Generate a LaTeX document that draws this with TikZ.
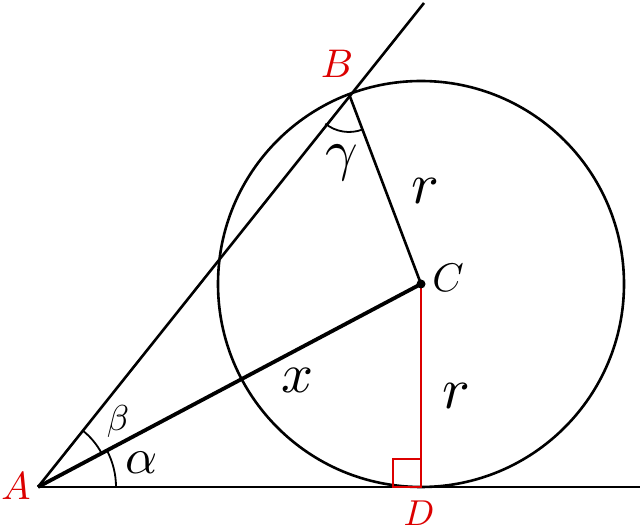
\documentclass[tikz,border=0pt]{standalone}
\begin{document}
\begin{tikzpicture}[x=1pt,y=1pt,
  thinln/.style={line width=2.6pt},
  thickln/.style={line width=3.8pt},
  arcln/.style={line width=1.8pt},
  lbl/.style={inner sep=0pt},
  ptlbl/.style={inner sep=0pt,text=myred}]
\definecolor{myred}{RGB}{220,0,0}
\useasboundingbox (0,0) rectangle (640,530);
\coordinate (A) at (38,43);
\coordinate (D) at (421,43);
\coordinate (C) at (421,246);
\coordinate (B) at (349,436);
\coordinate (E) at (424,527);
\coordinate (F) at (640,43);
\draw[thinln] (C) circle (203);
\draw[thinln] (A) -- (E);
\draw[thinln] (A) -- (F);
\draw[thinln] (B) -- (C);
\draw[thickln] (A) -- (C);
\draw[myred,line width=2.3pt] (C) -- (D);
\draw[myred,line width=2.3pt] (393,43) rectangle (421,71);
\fill (C) circle (4.5);
\draw[arcln] ([shift={(0:78)}]A) arc (0:27.9:78);
\draw[arcln] ([shift={(27.9:72)}]A) arc (27.9:51.5:72);
\draw[arcln] ([shift={(231.5:38)}]B) arc (231.5:290.8:38);
\node[ptlbl,scale=3.9] (lA) at (16,44) {$A$};
\node[ptlbl,scale=4.0] (lB) at (337,466) {$B$};
\node[lbl,scale=4.0] (lC) at (448,252) {$C$};
\node[ptlbl,scale=3.6] (lD) at (419,17) {$D$};
\node[lbl,scale=5.8] (r1) at (425,339) {$r$};
\node[lbl,scale=5.8] (r2) at (456,134) {$r$};
\node[lbl,scale=5.6] (lx) at (297,150) {$x$};
\node[lbl,scale=5.7] (lg) at (342,367) {$\gamma$};
\node[lbl,scale=3.6] (lb) at (118,108) {$\beta$};
\node[lbl,scale=5.0] (la) at (142,67) {$\alpha$};
\end{tikzpicture}
\end{document}
